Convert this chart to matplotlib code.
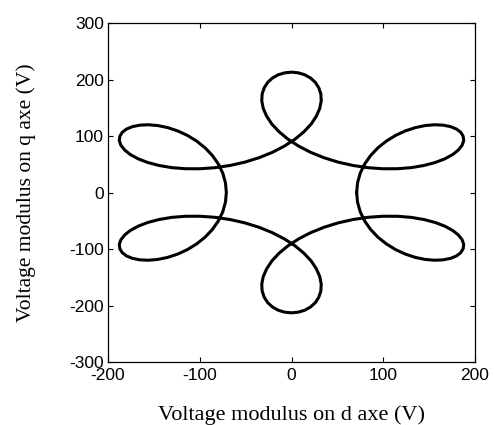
import matplotlib
matplotlib.use("Agg")
import matplotlib.pyplot as plt

plt.rcParams["axes.unicode_minus"] = False

# Quadrant I trace (d, q) in volts, from (71, 0) to the top of the upper loop
q1_d = [71.0, 72.0, 74.9, 79.7, 86.2, 94.2, 103.4, 113.5, 124.2, 135.1,
        145.8, 155.9, 165.2, 173.3, 179.8, 184.5, 187.1, 187.7, 185.9, 181.8,
        175.5, 167.0, 156.5, 144.3, 130.5, 115.6, 99.8, 83.5, 67.1, 51.0,
        35.5, 21.0, 7.9, -3.7, -13.5, -21.4, -27.1, -30.8, -32.4, -32.0,
        -29.7, -25.9, -20.7, -14.4, -7.4, 0.0]
q1_q = [0.0, 17.3, 34.2, 50.3, 65.4, 79.1, 91.0, 101.1, 109.1, 114.9,
        118.5, 119.9, 119.2, 116.6, 112.3, 106.5, 99.5, 91.7, 83.5, 75.1,
        67.0, 59.5, 53.0, 47.8, 44.0, 42.1, 42.0, 43.9, 47.8, 53.7,
        61.5, 71.0, 82.0, 94.2, 107.4, 121.1, 135.1, 148.8, 162.1, 174.4,
        185.5, 195.0, 202.7, 208.4, 211.8, 213.0]

# Quadrant II (mirror of quadrant I about the q axis, traversed onward)
q2_d = [7.4, 14.4, 20.7, 25.9, 29.7, 32.0, 32.4, 30.8, 27.1, 21.4,
        13.5, 3.7, -7.9, -21.0, -35.5, -51.0, -67.1, -83.5, -99.8, -115.6,
        -130.5, -144.3, -156.5, -167.0, -175.5, -181.8, -185.9, -187.7, -187.1, -184.5,
        -179.8, -173.3, -165.2, -155.9, -145.8, -135.1, -124.2, -113.5, -103.4, -94.2,
        -86.2, -79.7, -74.9, -72.0, -71.0]
q2_q = [211.8, 208.4, 202.7, 195.0, 185.5, 174.4, 162.1, 148.8, 135.1, 121.1,
        107.4, 94.2, 82.0, 71.0, 61.5, 53.7, 47.8, 43.9, 42.0, 42.1,
        44.0, 47.8, 53.0, 59.5, 67.0, 75.1, 83.5, 91.7, 99.5, 106.5,
        112.3, 116.6, 119.2, 119.9, 118.5, 114.9, 109.1, 101.1, 91.0, 79.1,
        65.4, 50.3, 34.2, 17.3, 0.0]

# Quadrant III
q3_d = [-72.0, -74.9, -79.7, -86.2, -94.2, -103.4, -113.5, -124.2, -135.1,
        -145.8, -155.9, -165.2, -173.3, -179.8, -184.5, -187.1, -187.7, -185.9, -181.8,
        -175.5, -167.0, -156.5, -144.3, -130.5, -115.6, -99.8, -83.5, -67.1, -51.0,
        -35.5, -21.0, -7.9, 3.7, 13.5, 21.4, 27.1, 30.8, 32.4, 32.0,
        29.7, 25.9, 20.7, 14.4, 7.4, 0.0]
q3_q = [-17.3, -34.2, -50.3, -65.4, -79.1, -91.0, -101.1, -109.1, -114.9,
        -118.5, -119.9, -119.2, -116.6, -112.3, -106.5, -99.5, -91.7, -83.5, -75.1,
        -67.0, -59.5, -53.0, -47.8, -44.0, -42.1, -42.0, -43.9, -47.8, -53.7,
        -61.5, -71.0, -82.0, -94.2, -107.4, -121.1, -135.1, -148.8, -162.1, -174.4,
        -185.5, -195.0, -202.7, -208.4, -211.8, -213.0]

# Quadrant IV (closes back to the start)
q4_d = [-7.4, -14.4, -20.7, -25.9, -29.7, -32.0, -32.4, -30.8, -27.1, -21.4,
        -13.5, -3.7, 7.9, 21.0, 35.5, 51.0, 67.1, 83.5, 99.8, 115.6,
        130.5, 144.3, 156.5, 167.0, 175.5, 181.8, 185.9, 187.7, 187.1, 184.5,
        179.8, 173.3, 165.2, 155.9, 145.8, 135.1, 124.2, 113.5, 103.4, 94.2,
        86.2, 79.7, 74.9, 72.0, 71.0]
q4_q = [-211.8, -208.4, -202.7, -195.0, -185.5, -174.4, -162.1, -148.8, -135.1, -121.1,
        -107.4, -94.2, -82.0, -71.0, -61.5, -53.7, -47.8, -43.9, -42.0, -42.1,
        -44.0, -47.8, -53.0, -59.5, -67.0, -75.1, -83.5, -91.7, -99.5, -106.5,
        -112.3, -116.6, -119.2, -119.9, -118.5, -114.9, -109.1, -101.1, -91.0, -79.1,
        -65.4, -50.3, -34.2, -17.3, 0.0]

x_ticks = [-200, -100, 0, 100, 200]
y_ticks = [-300, -200, -100, 0, 100, 200, 300]
x_label = "Voltage modulus on d axe (V)"
y_label = "Voltage modulus on q axe (V)"

d_vals = q1_d + q2_d + q3_d + q4_d
q_vals = q1_q + q2_q + q3_q + q4_q

fig = plt.figure(figsize=(4.94, 4.25), dpi=100)
ax = fig.add_axes([108 / 494, 1 - 362 / 425, 367 / 494, 339 / 425])
ax.plot(d_vals, q_vals, color="black", linewidth=2.2, solid_joinstyle="round")
ax.set_xlim(-200, 200)
ax.set_ylim(-300, 300)
ax.set_xticks(x_ticks)
ax.set_yticks(y_ticks)
ax.tick_params(direction="in", length=3.5, width=0.8, top=True, right=True,
               labelsize=12.5)
ax.tick_params(axis="x", pad=4.5)
ax.tick_params(axis="y", pad=3)
for lab in ax.get_xticklabels() + ax.get_yticklabels():
    lab.set_fontfamily("Liberation Sans")
for s in ax.spines.values():
    s.set_linewidth(0.9)
ax.set_xlabel(x_label, fontfamily="Liberation Serif", fontsize=16, labelpad=16)
ax.set_ylabel(y_label, fontfamily="Liberation Serif", fontsize=15.5, labelpad=24)
fig.savefig("out.png", dpi=100)
